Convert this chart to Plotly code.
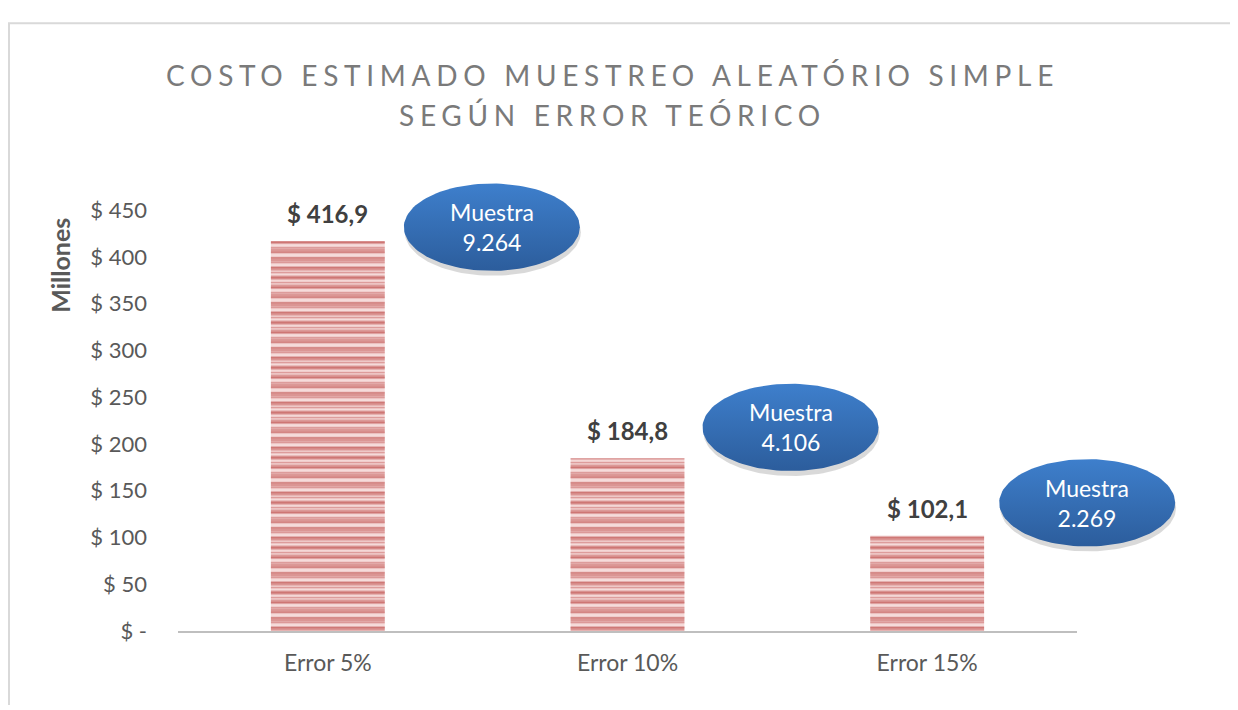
import numpy as np
import plotly.graph_objects as go

# ---- data ----
categories = ["Error 5%", "Error 10%", "Error 15%"]
costs = [416.9, 184.8, 102.1]
cost_labels = ["$ 416,9", "$ 184,8", "$ 102,1"]
sample_sizes = ["9.264", "4.106", "2.269"]
tick_vals = [0, 50, 100, 150, 200, 250, 300, 350, 400, 450]
tick_text = ["$ -", "$ 50", "$ 100", "$ 150", "$ 200", "$ 250", "$ 300", "$ 350", "$ 400", "$ 450"]
title_lines = ["COSTO ESTIMADO MUESTREO ALEATÓRIO SIMPLE", "SEGÚN ERROR TEÓRICO"]

# ---- layout geometry (screen pixels of the target picture) ----
W, H = 1238, 710
OX, OY, HE = 8, 19.5, 688      # where the figure box lands on screen
PL, PR, PT, PB = 178, 1077, 209, 633
YMAX = 450
ell_dx = [164, 163, 160]     # ellipse centre offset right of bar centre
ell_dy = [14, 31, 33]        # ellipse centre offset above bar top
ell_a, ell_b = 88, 44
title_y = [73, 113]


def pxx(X):
    return (X - OX) / W


def pxy(Y):
    return 1 - (Y - OY) / HE


FONT = "Lato"

fig = go.Figure()

# striped bars: two overlaid stripe patterns give the irregular banding
fig.add_trace(go.Bar(
    x=categories, y=costs, width=0.38,
    marker=dict(
        color="#f3d4d3", line=dict(width=0),
        pattern=dict(shape="-", bgcolor="#f6dcdb", fgcolor="#c0504d",
                     size=9, solidity=0.45, fillmode="overlay"),
    ),
    hoverinfo="skip",
))
fig.add_trace(go.Bar(
    x=categories, y=costs, width=0.38,
    marker=dict(
        color="rgba(0,0,0,0)", line=dict(width=0),
        pattern=dict(shape="-", bgcolor="rgba(0,0,0,0)", fgcolor="#c0504d",
                     size=5, solidity=0.3, fillmode="overlay"),
    ),
    hoverinfo="skip",
))


def px_of(i, v):
    cx = PL + (PR - PL) * (i + 0.5) / len(categories)
    cy = PB - (PB - PT) * v / YMAX
    return cx, cy


t = np.linspace(0, 2 * np.pi, 121)
for i, (v, n) in enumerate(zip(costs, sample_sizes)):
    bx, by = px_of(i, v)
    cx, cy = bx + ell_dx[i] - OX, HE - (by - ell_dy[i] - OY)
    # shadow
    fig.add_trace(go.Scatter(
        x=cx + 1 + ell_a * np.cos(t), y=(cy - 5) + ell_b * np.sin(t),
        xaxis="x2", yaxis="y2", mode="lines", line=dict(width=0),
        fill="toself", fillcolor="rgba(0,0,0,0.15)", hoverinfo="skip",
    ))
    fig.add_trace(go.Scatter(
        x=cx + ell_a * np.cos(t), y=cy + ell_b * np.sin(t),
        xaxis="x2", yaxis="y2", mode="lines", line=dict(width=0),
        fill="toself",
        fillgradient=dict(type="vertical",
                          colorscale=[[0, "#2c5d9c"], [1, "#3e7fcc"]]),
        hoverinfo="skip",
    ))
    fig.add_annotation(x=cx, y=cy, xref="x2", yref="y2",
                       text=f"Muestra<br>{n}", showarrow=False,
                       xanchor="center", yanchor="middle",
                       font=dict(family=FONT, size=23, color="white"))
    fig.add_annotation(x=categories[i], y=v, xref="x", yref="y",
                       text=f"<b>{cost_labels[i]}</b>", showarrow=False,
                       xanchor="center", yanchor="bottom", yshift=11,
                       font=dict(family=FONT, size=24, color="#404040"))

for line, ty in zip(title_lines, title_y):
    fig.add_annotation(
        x=pxx(612), y=pxy(ty), xref="paper", yref="paper", showarrow=False,
        xanchor="center", yanchor="middle",
        text=f'<span style="letter-spacing:5.7px">{line}</span>',
        font=dict(family=FONT, size=28, color="#7a7a7a"),
    )
fig.add_annotation(
    x=pxx(60), y=pxy(265), xref="paper", yref="paper", showarrow=False,
    xanchor="center", yanchor="middle",
    text="<b>Millones</b>", textangle=-90,
    font=dict(family=FONT, size=25, color="#595959"),
)

# outer border (top & left)
fig.add_shape(type="line", xref="paper", yref="paper",
              x0=pxx(8), x1=1, y0=0.998, y1=0.998,
              line=dict(color="#d9d9d9", width=2))
fig.add_shape(type="line", xref="paper", yref="paper",
              x0=pxx(9), x1=pxx(9), y0=0, y1=0.998,
              line=dict(color="#d9d9d9", width=2))

fig.update_layout(
    width=W, height=H,
    margin=dict(l=0, r=0, t=0, b=0),
    paper_bgcolor="white", plot_bgcolor="rgba(0,0,0,0)",
    showlegend=False, barmode="overlay",
    xaxis=dict(domain=[pxx(PL), pxx(PR)], showgrid=False, showline=True,
               linecolor="#bfbfbf", linewidth=2, ticks="",
               tickfont=dict(family=FONT, size=23, color="#595959"),
               ticklabelstandoff=10, fixedrange=True),
    yaxis=dict(domain=[pxy(PB), pxy(PT)], range=[0, YMAX],
               tickvals=tick_vals, ticktext=tick_text, showgrid=False,
               zeroline=False, showline=False, ticks="",
               tickfont=dict(family=FONT, size=22, color="#595959"),
               ticklabelstandoff=30, fixedrange=True),
    xaxis2=dict(domain=[0, 1], range=[0, W], visible=False, anchor="y2",
                fixedrange=True),
    yaxis2=dict(domain=[0, 1], range=[0, HE], visible=False, anchor="x2",
                fixedrange=True),
)

fig.write_html("out.html")
